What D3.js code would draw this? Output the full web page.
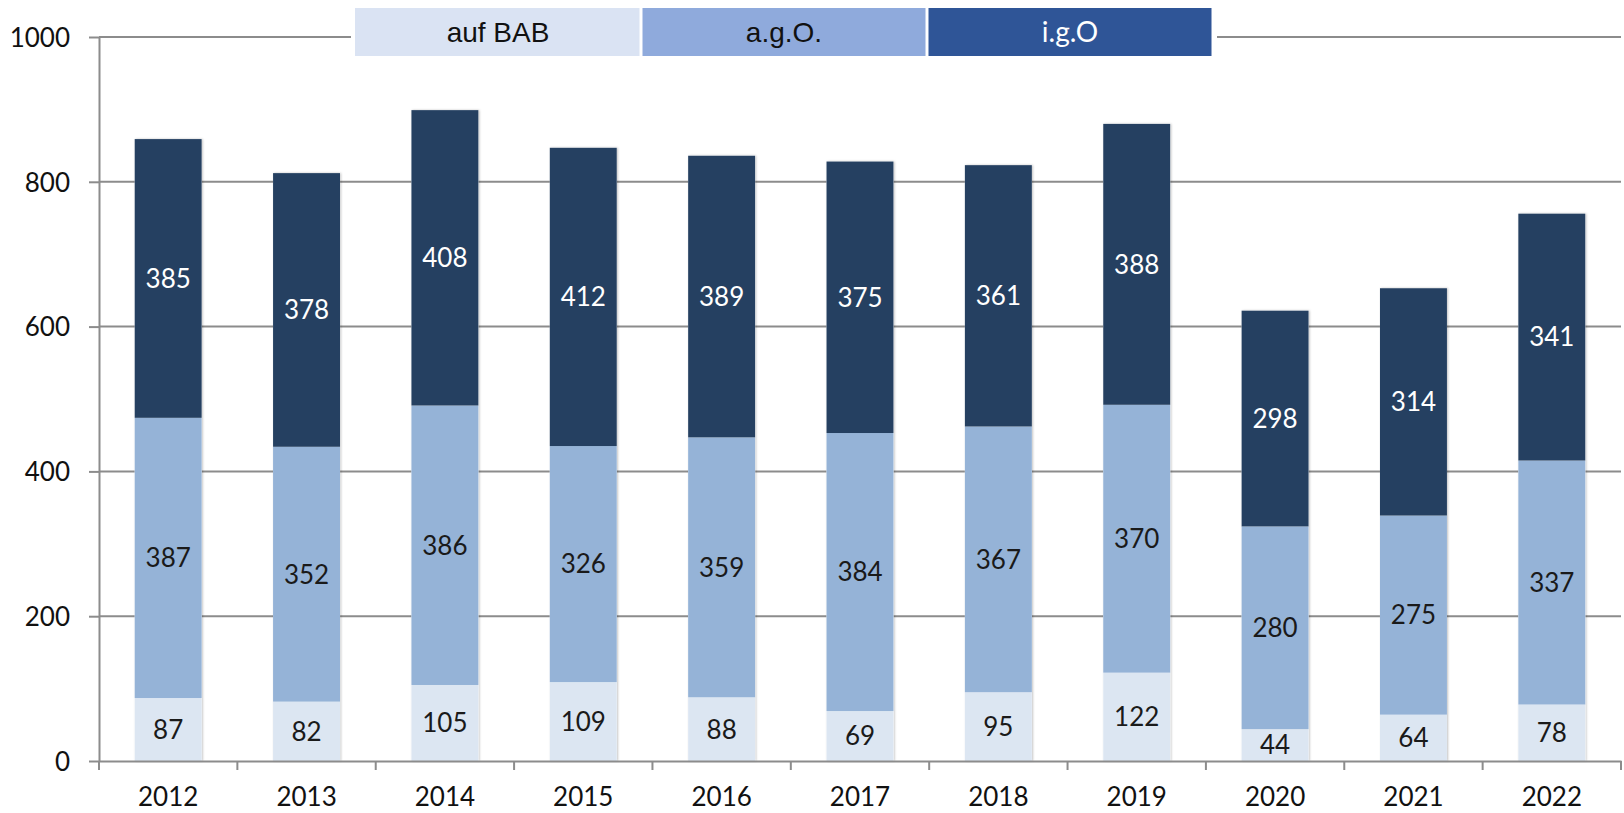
<!DOCTYPE html>
<html>
<head>
<meta charset="utf-8">
<script src="https://cdn.jsdelivr.net/npm/d3@7"></script>
<style>
  body { margin: 0; background: #fff; }
  svg { display: block; }
  .num { font-family: Lato, "Open Sans", sans-serif; font-size: 26px; }
</style>
</head>
<body>
<svg id="chart"></svg>
<script>
// data
const years = ["2012", "2013", "2014", "2015", "2016", "2017", "2018", "2019", "2020", "2021", "2022"];
const aufBAB = [87, 82, 105, 109, 88, 69, 95, 122, 44, 64, 78];
const agO = [387, 352, 386, 326, 359, 384, 367, 370, 280, 275, 337];
const igO = [385, 378, 408, 412, 389, 375, 361, 388, 298, 314, 341];
const yTicks = [0, 200, 400, 600, 800, 1000];
const seriesNames = ["auf BAB", "a.g.O.", "i.g.O"];

const width = 1624, height = 813;
const svg = d3.select("#chart").attr("width", width).attr("height", height);

// bar colours and legend colours differ slightly in the original
const barColors = ["#dce6f2", "#95b3d7", "#254061"];
const labelColors = ["#1a1a1a", "#1a1a1a", "#ffffff"];
const legendColors = ["#dae3f3", "#8faadc", "#2f5597"];
const legendText = ["#111", "#111", "#fff"];

const x = d3.scaleBand().domain(years).range([99, 1621]).paddingInner(0.516).paddingOuter(0.258);
const y = d3.scaleLinear().domain([0, 1000]).range([761, 37]);

// soft shadow under the bars
const defs = svg.append("defs");
const f = defs.append("filter").attr("id", "shadow").attr("x", "-10%").attr("y", "-10%").attr("width", "120%").attr("height", "120%");
f.append("feDropShadow").attr("dx", 1).attr("dy", 0).attr("stdDeviation", 1.2).attr("flood-color", "#000").attr("flood-opacity", 0.25);

// gridlines
svg.append("g")
    .selectAll("line")
    .data(yTicks.filter(d => d > 0))
    .enter().append("line")
    .attr("x1", 99).attr("x2", 1621)
    .attr("y1", d => y(d)).attr("y2", d => y(d))
    .attr("stroke", "#8c8c8c")
    .attr("stroke-width", 2);

// stacked data
const rows = years.map((yr, i) => ({ year: yr, "auf BAB": aufBAB[i], "a.g.O.": agO[i], "i.g.O": igO[i] }));
const stack = d3.stack().keys(seriesNames)(rows);

const barG = svg.append("g");
barG.selectAll("rect.shadow")
    .data(rows)
    .enter().append("rect")
    .attr("x", d => x(d.year))
    .attr("y", d => y(d["auf BAB"] + d["a.g.O."] + d["i.g.O"]))
    .attr("width", x.bandwidth())
    .attr("height", d => y(0) - y(d["auf BAB"] + d["a.g.O."] + d["i.g.O"]))
    .attr("fill", "#fff")
    .attr("filter", "url(#shadow)");

stack.forEach((s, si) => {
    barG.append("g")
        .selectAll("rect")
        .data(s)
        .enter().append("rect")
        .attr("x", d => x(d.data.year))
        .attr("y", d => y(d[1]))
        .attr("width", x.bandwidth())
        .attr("height", d => y(d[0]) - y(d[1]))
        .attr("fill", barColors[si]);
});

// segment labels
stack.forEach((s, si) => {
    svg.append("g")
        .selectAll("text")
        .data(s)
        .enter().append("text")
        .attr("class", "num")
        .attr("x", d => x(d.data.year) + x.bandwidth() / 2)
        .attr("y", d => y((d[0] + d[1]) / 2))
        .attr("dy", "0.36em")
        .attr("text-anchor", "middle")
        .attr("fill", labelColors[si])
        .text(d => d[1] - d[0]);
});

// y axis
const yAxis = svg.append("g")
    .attr("transform", "translate(99,0)")
    .call(d3.axisLeft(y).tickValues(yTicks).tickFormat(d3.format("d")).tickSize(10).tickPadding(19).tickSizeOuter(0));
yAxis.select(".domain").attr("stroke", "#8c8c8c").attr("stroke-width", 2);
yAxis.selectAll(".tick line").attr("stroke", "#8c8c8c").attr("stroke-width", 2);
yAxis.selectAll(".tick text")
    .attr("class", "num")
    .attr("fill", "#111")
    .attr("dy", "0.36em");

// x axis: labels under categories, ticks on the category boundaries
const xAxis = svg.append("g")
    .attr("transform", `translate(0,${y(0)})`)
    .call(d3.axisBottom(x).tickSize(0).tickPadding(45).tickSizeOuter(0));
xAxis.select(".domain").attr("stroke", "#8c8c8c").attr("stroke-width", 2);
xAxis.selectAll(".tick text").attr("class", "num").attr("fill", "#111").attr("dy", 0);

const step = x.step();
xAxis.append("g")
    .selectAll("line")
    .data(d3.range(years.length + 1))
    .enter().append("line")
    .attr("x1", i => 99 + i * step).attr("x2", i => 99 + i * step)
    .attr("y1", 0).attr("y2", 9)
    .attr("stroke", "#8c8c8c").attr("stroke-width", 2);

// legend boxes across the top
const legW = 286, legX = 355;
const leg = svg.append("g");
leg.append("rect")
    .attr("x", legX - 4).attr("y", 6)
    .attr("width", legW * 3 + 8).attr("height", 52)
    .attr("fill", "#fff");
seriesNames.forEach((name, i) => {
    leg.append("rect")
        .attr("x", legX + i * legW + (i > 0 ? 1.5 : 0))
        .attr("y", 8)
        .attr("width", legW - (i > 0 ? 1.5 : 0) - 1.5)
        .attr("height", 48)
        .attr("fill", legendColors[i]);
    leg.append("text")
        .attr("x", legX + i * legW + legW / 2)
        .attr("y", 32)
        .attr("dy", "0.36em")
        .attr("text-anchor", "middle")
        .attr("fill", legendText[i])
        .style("font-family", i == 2 ? "Lato, sans-serif" : "'Liberation Sans', Arial, sans-serif")
        .style("font-size", i == 2 ? "28px" : "28px")
        .text(name);
});
</script>
</body>
</html>
